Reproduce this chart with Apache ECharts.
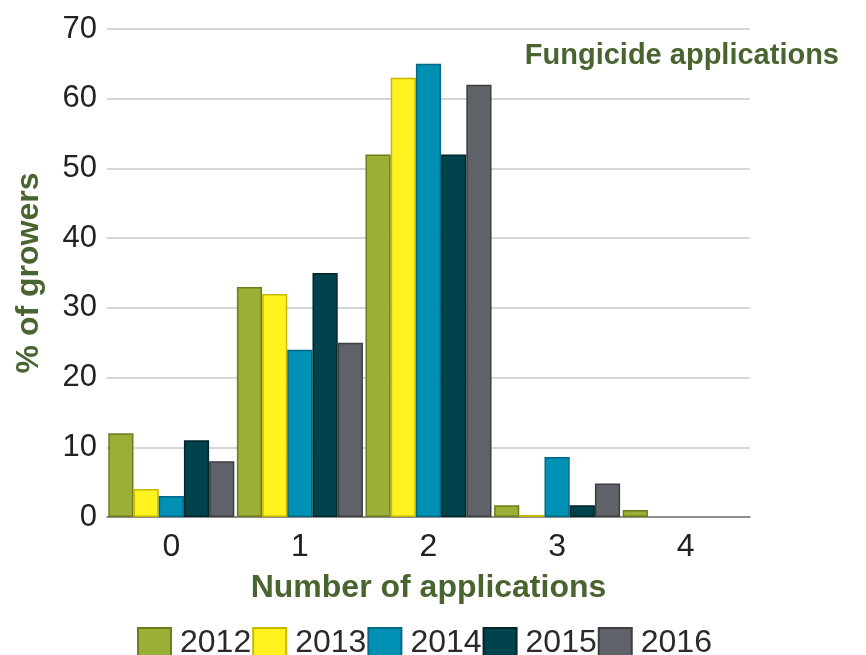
<!DOCTYPE html>
<html>
<head>
<meta charset="utf-8">
<script src="https://cdn.jsdelivr.net/npm/echarts@6/dist/echarts.min.js"></script>
<style>
  html, body { margin: 0; padding: 0; background: #fff; }
  #chart { width: 866px; height: 655px; }
</style>
</head>
<body>
<div id="chart"></div>
<script>
const categories = ['0', '1', '2', '3', '4'];
const years = ['2012', '2013', '2014', '2015', '2016'];
const colors = ['#9aaf35', '#fff21f', '#0090b3', '#00434c', '#5f6269'];
const borders = ['#6e7d1c', '#c8b800', '#006a86', '#00262b', '#3c3e42'];
const v2012 = [12, 33, 52, 1.7, 1];
const v2013 = [4, 32, 63, 0.3, 0];
const v2014 = [3, 24, 65, 8.6, 0];
const v2015 = [11, 35, 52, 1.7, 0];
const v2016 = [8, 25, 62, 4.8, 0];
const yTicks = [0, 10, 20, 30, 40, 50, 60, 70];

const green = '#4a6430';
const font = 'Liberation Sans, Arial, sans-serif';
const seriesValues = [v2012, v2013, v2014, v2015, v2016];

const chart = echarts.init(document.getElementById('chart'));
chart.setOption({
    animation: false,
    backgroundColor: '#fff',
    textStyle: { fontFamily: font },
    title: {
        text: 'Fungicide applications',
        right: 22, top: 36,
        textStyle: { color: green, fontSize: 29, fontWeight: 'bold', fontFamily: font }
    },
    legend: {
        data: years,
        left: 132, top: 622,
        itemWidth: 33, itemHeight: 30, itemGap: 1,
        icon: 'rect',
        textStyle: { color: '#2a2a2a', fontSize: 32, fontFamily: font, padding: [0, 0, 0, 4] }
    },
    grid: { left: 107, right: 116, top: 29, bottom: 138, outerBoundsMode: 'none', containLabel: false },
    xAxis: {
        type: 'category',
        data: categories,
        name: 'Number of applications',
        nameLocation: 'middle',
        nameGap: 55,
        nameTextStyle: { color: green, fontSize: 32, fontWeight: 'bold', fontFamily: font },
        axisLine: { lineStyle: { color: '#777', width: 1.5 } },
        axisTick: { show: false },
        axisLabel: { color: '#222', fontSize: 32, margin: 14, fontFamily: font }
    },
    yAxis: {
        type: 'value',
        min: 0, max: 70, interval: 10,
        name: '% of growers',
        nameLocation: 'middle',
        nameGap: 62,
        nameTextStyle: { color: green, fontSize: 32, fontWeight: 'bold', fontFamily: font },
        axisLine: { show: false },
        axisTick: { show: false },
        axisLabel: {
            color: '#222', fontSize: 31, margin: 10, fontFamily: font,
            formatter: v => yTicks.includes(v) ? String(v) : ''
        },
        splitLine: { lineStyle: { color: '#c8c8c8', width: 1.5 } }
    },
    series: years.map((y, i) => ({
        name: y,
        type: 'bar',
        data: seriesValues[i].map(v => v === 0 ? { value: 0, itemStyle: { borderWidth: 0 } } : v),
        barGap: '0%',
        barCategoryGap: '2%',
        itemStyle: { color: colors[i], borderColor: borders[i], borderWidth: 1.5 }
    }))
});
</script>
</body>
</html>
